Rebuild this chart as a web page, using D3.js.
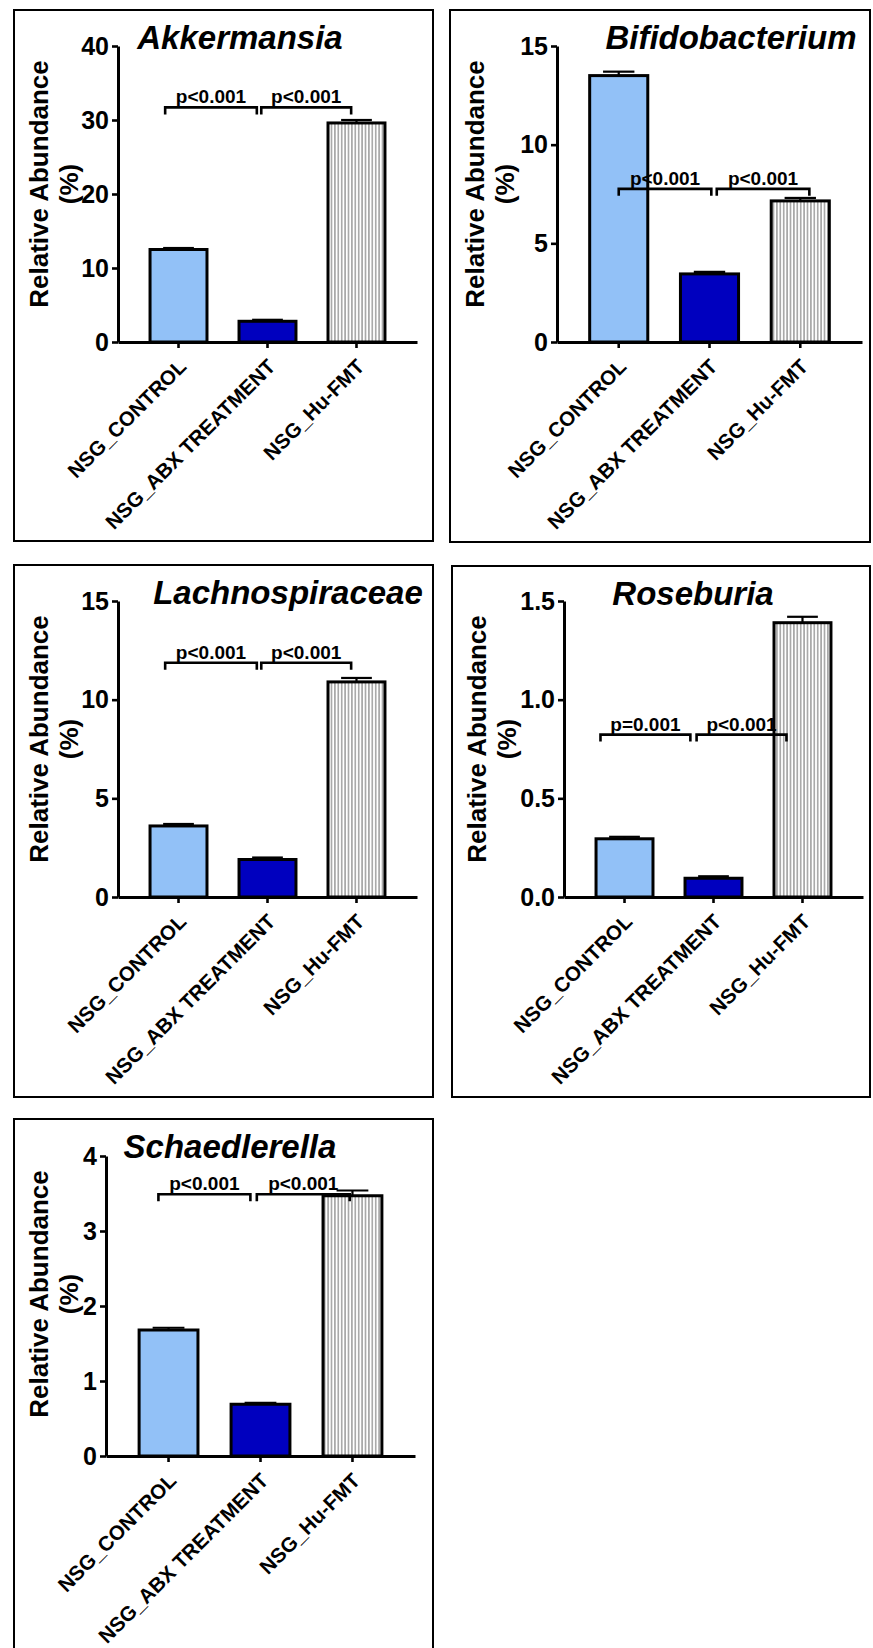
<!DOCTYPE html>
<html>
<head>
<meta charset="utf-8">
<script src="https://cdn.jsdelivr.net/npm/d3@7"></script>
<style>
    body { margin: 0; background: #fff; }
    svg { display: block; font-family: "Liberation Sans", Arial, sans-serif; }
</style>
</head>
<body>
<svg id="chart" width="873" height="1648"></svg>
<script>

// DATA

const categories = ["NSG_CONTROL", "NSG_ABX TREATMENT", "NSG_Hu-FMT"];

const taxa = ["Akkermansia", "Bifidobacterium", "Lachnospiraceae", "Roseburia", "Schaedlerella"];

const akkermansiaValues = [12.5, 2.8, 29.6];
const akkermansiaErrors = [0.2, 0.2, 0.4];

const bifidobacteriumValues = [13.5, 3.45, 7.15];
const bifidobacteriumErrors = [0.2, 0.1, 0.15];

const lachnospiraceaeValues = [3.6, 1.9, 10.9];
const lachnospiraceaeErrors = [0.1, 0.1, 0.2];

const roseburiaValues = [0.295, 0.095, 1.39];
const roseburiaErrors = [0.01, 0.01, 0.03];

const schaedlerellaValues = [1.68, 0.69, 3.47];
const schaedlerellaErrors = [0.03, 0.02, 0.07];

const akkermansiaTicks = [0, 10, 20, 30, 40];
const bifidobacteriumTicks = [0, 5, 10, 15];
const lachnospiraceaeTicks = [0, 5, 10, 15];
const roseburiaTicks = [0, 0.5, 1.0, 1.5];
const schaedlerellaTicks = [0, 1, 2, 3, 4];

// brackets: from / to are category positions (0 = first bar centre), y in data units
const akkermansiaBrackets = [
    { from: -0.15, to: 0.88, y: 31.7, label: "p<0.001" },
    { from: 0.93, to: 1.94, y: 31.7, label: "p<0.001" }
];
const bifidobacteriumBrackets = [
    { from: 0.0, to: 1.02, y: 7.76, label: "p<0.001" },
    { from: 1.08, to: 2.1, y: 7.76, label: "p<0.001" }
];
const lachnospiraceaeBrackets = [
    { from: -0.15, to: 0.88, y: 11.87, label: "p<0.001" },
    { from: 0.93, to: 1.94, y: 11.87, label: "p<0.001" }
];
const roseburiaBrackets = [
    { from: -0.27, to: 0.74, y: 0.823, label: "p=0.001" },
    { from: 0.81, to: 1.82, y: 0.823, label: "p<0.001" }
];
const schaedlerellaBrackets = [
    { from: -0.11, to: 0.89, y: 3.49, label: "p<0.001" },
    { from: 0.96, to: 1.97, y: 3.49, label: "p<0.001" }
];

const allValues = [akkermansiaValues, bifidobacteriumValues, lachnospiraceaeValues, roseburiaValues, schaedlerellaValues];
const allErrors = [akkermansiaErrors, bifidobacteriumErrors, lachnospiraceaeErrors, roseburiaErrors, schaedlerellaErrors];
const allTicks = [akkermansiaTicks, bifidobacteriumTicks, lachnospiraceaeTicks, roseburiaTicks, schaedlerellaTicks];
const allBrackets = [akkermansiaBrackets, bifidobacteriumBrackets, lachnospiraceaeBrackets, roseburiaBrackets, schaedlerellaBrackets];
const tickFormats = ["d", "d", "d", ".1f", "d"];


// LAYOUT (pixels, one entry per panel)

const panels = [
    { x: 14, y: 10, w: 419, h: 531, axisX: 118, axisEnd: 417, yTop: 46, yZero: 342, titleX: 240 },
    { x: 450, y: 10, w: 420, h: 532, axisX: 557, axisEnd: 862, yTop: 46, yZero: 342, titleX: 731 },
    { x: 14, y: 565, w: 419, h: 532, axisX: 118, axisEnd: 417, yTop: 601, yZero: 897, titleX: 288 },
    { x: 452, y: 566, w: 418, h: 531, axisX: 564, axisEnd: 863, yTop: 601, yZero: 897, titleX: 693 },
    { x: 14, y: 1119, w: 419, h: 560, axisX: 106, axisEnd: 415, yTop: 1156, yZero: 1456, titleX: 230 }
];

const fills = ["#92c1f7", "#0000bf", "url(#hatch)"];


const svg = d3.select("#chart");

// vertical hatch for the Hu-FMT bars
svg.append("defs")
    .append("pattern")
    .attr("id", "hatch")
    .attr("patternUnits", "userSpaceOnUse")
    .attr("width", 3.4)
    .attr("height", 10)
    .call(function (p) {
        p.append("rect").attr("width", 3.4).attr("height", 10).attr("fill", "#ffffff");
        p.append("line")
            .attr("x1", 1.7).attr("x2", 1.7)
            .attr("y1", 0).attr("y2", 10)
            .attr("stroke", "#7a7a7a")
            .attr("stroke-width", 1.1);
    });


// DRAW ONE PANEL

function renderPanel(i) {

    let layout = panels[i];
    let values = allValues[i];
    let errors = allErrors[i];
    let ticks = allTicks[i];

    let g = svg.append("g");

    // frame
    g.append("rect")
        .attr("x", layout.x)
        .attr("y", layout.y)
        .attr("width", layout.w)
        .attr("height", layout.h)
        .attr("fill", "none")
        .attr("stroke", "#000")
        .attr("stroke-width", 2);

    let x = d3.scaleBand()
        .domain(categories)
        .range([layout.axisX, layout.axisEnd])
        .paddingInner(0.36)
        .paddingOuter(0.36);

    let y = d3.scaleLinear()
        .domain([0, ticks[ticks.length - 1]])
        .range([layout.yZero, layout.yTop]);

    // position between bar centres, used by brackets
    let catPos = d3.scaleLinear()
        .domain([0, 1])
        .range([x(categories[0]) + x.bandwidth() / 2, x(categories[1]) + x.bandwidth() / 2]);

    // bars
    g.selectAll(".bar")
        .data(values)
        .join("rect")
        .attr("x", (d, j) => x(categories[j]))
        .attr("y", d => y(d))
        .attr("width", x.bandwidth())
        .attr("height", d => y(0) - y(d))
        .attr("fill", (d, j) => fills[j])
        .attr("stroke", "#000")
        .attr("stroke-width", 3);

    // error bars (upper only)
    for (let j = 0; j < values.length; j++) {

        let cx = x(categories[j]) + x.bandwidth() / 2;
        let top = y(values[j] + errors[j]);

        g.append("line")
            .attr("x1", cx).attr("x2", cx)
            .attr("y1", y(values[j])).attr("y2", top)
            .attr("stroke", "#000").attr("stroke-width", 2.2);

        g.append("line")
            .attr("x1", cx - x.bandwidth() * 0.27).attr("x2", cx + x.bandwidth() * 0.27)
            .attr("y1", top).attr("y2", top)
            .attr("stroke", "#000").attr("stroke-width", 2.2);
    }

    // y axis
    let yAxis = g.append("g")
        .attr("transform", "translate(" + layout.axisX + ",0)")
        .call(d3.axisLeft(y).tickValues(ticks).tickFormat(d3.format(tickFormats[i])).tickSize(6).tickPadding(3).tickSizeOuter(0));

    // x axis
    let xAxis = g.append("g")
        .attr("transform", "translate(0," + layout.yZero + ")")
        .call(d3.axisBottom(x).tickSize(6).tickSizeOuter(0).tickFormat(""));

    for (let axis of [yAxis, xAxis]) {
        axis.select(".domain").attr("stroke", "#000").attr("stroke-width", 3);
        axis.selectAll(".tick line").attr("stroke", "#000").attr("stroke-width", 2.6);
    }

    yAxis.selectAll(".tick text")
        .attr("font-size", 25)
        .attr("font-weight", "bold")
        .attr("fill", "#000");

    // rotated category labels
    for (let j = 0; j < categories.length; j++) {

        let cx = x(categories[j]) + x.bandwidth() / 2;

        g.append("text")
            .attr("transform", "translate(" + (cx + 9) + "," + (layout.yZero + 26) + ") rotate(-45)")
            .attr("text-anchor", "end")
            .attr("font-size", 20.5)
            .attr("font-weight", "bold")
            .text(categories[j]);
    }

    // y axis title
    let labelY = layout.yTop + 138;

    g.append("text")
        .attr("transform", "translate(" + (layout.x + 34) + "," + labelY + ") rotate(-90)")
        .attr("text-anchor", "middle")
        .attr("font-size", 26)
        .attr("font-weight", "bold")
        .text("Relative Abundance");

    g.append("text")
        .attr("transform", "translate(" + (layout.x + 64) + "," + labelY + ") rotate(-90)")
        .attr("text-anchor", "middle")
        .attr("font-size", 26)
        .attr("font-weight", "bold")
        .text("(%)");

    // panel title
    g.append("text")
        .attr("x", layout.titleX)
        .attr("y", layout.y + 39)
        .attr("text-anchor", "middle")
        .attr("font-size", 33)
        .attr("font-weight", "bold")
        .attr("font-style", "italic")
        .text(taxa[i]);

    // significance brackets
    for (let b of allBrackets[i]) {

        let x1 = catPos(b.from);
        let x2 = catPos(b.to);
        let by = y(b.y);

        g.append("path")
            .attr("d", "M" + x1 + "," + (by + 7) + "V" + by + "H" + x2 + "V" + (by + 7))
            .attr("fill", "none")
            .attr("stroke", "#000")
            .attr("stroke-width", 2.6);

        g.append("text")
            .attr("x", (x1 + x2) / 2)
            .attr("y", by - 4)
            .attr("text-anchor", "middle")
            .attr("font-size", 19)
            .attr("font-weight", "bold")
            .text(b.label);
    }

}


for (let i = 0; i < taxa.length; i++) {
    renderPanel(i);
}

</script>
</body>
</html>
